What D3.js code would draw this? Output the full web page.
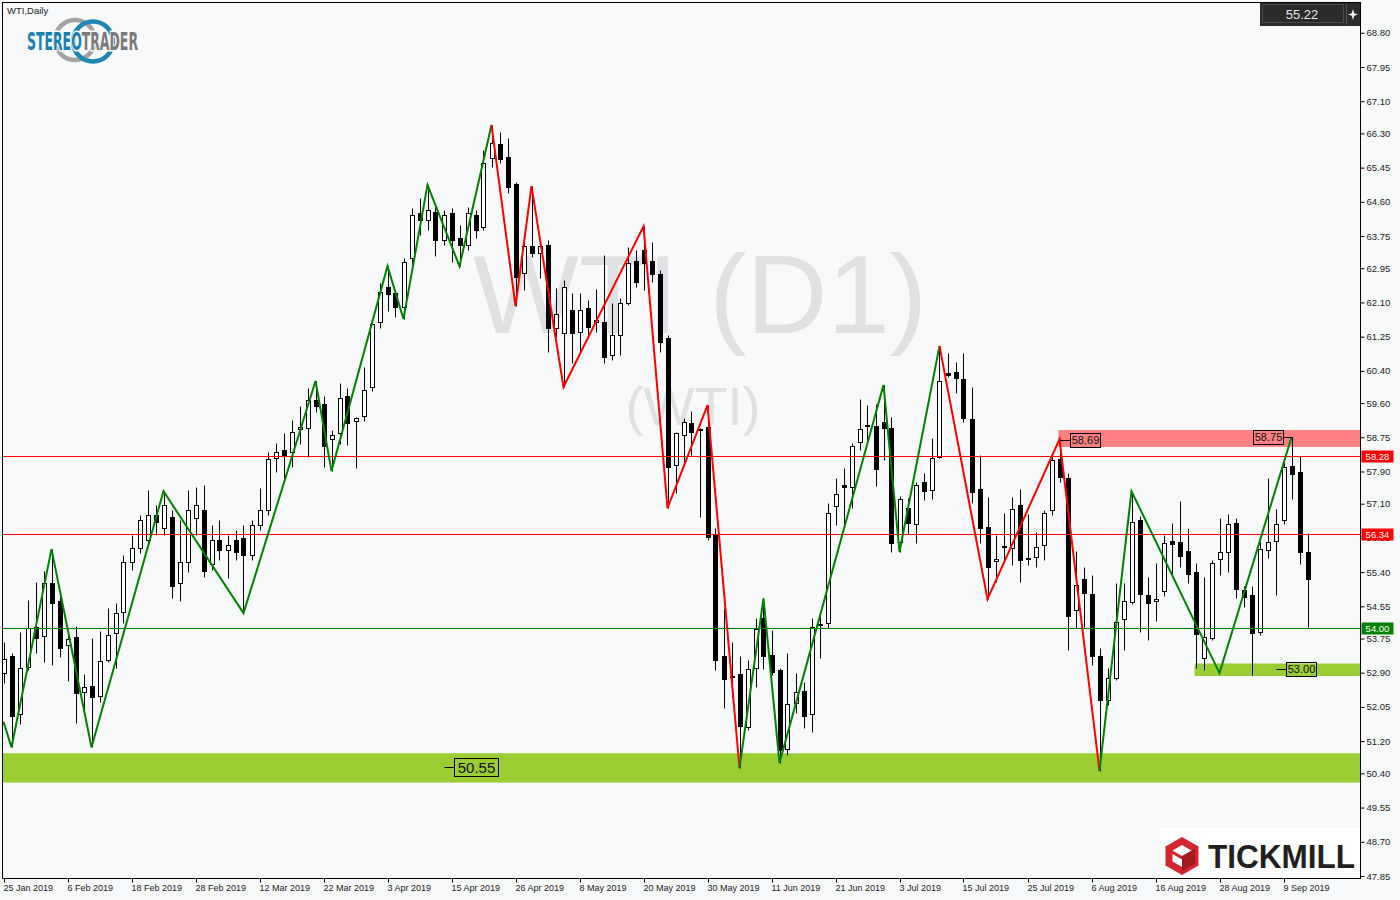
<!DOCTYPE html>
<html><head><meta charset="utf-8">
<script src="https://cdn.jsdelivr.net/npm/d3@7"></script>
<style>body{margin:0;background:#f8f9fb;}svg{display:block;}</style>
</head><body><svg id="c" width="1400" height="900"></svg>
<script>
// ---------------- DATA ----------------
const symbolTitle = "WTI,Daily";
const watermarkMain = "WTI (D1)";
const watermarkSub = "(WTI)";
const dateTickBars = [0,8,16,24,32,40,48,56,64,72,80,88,96,104,112,120,128,136,144,152,160];
const dateTickLabels = ["25 Jan 2019","6 Feb 2019","18 Feb 2019","28 Feb 2019","12 Mar 2019","22 Mar 2019","3 Apr 2019","15 Apr 2019","26 Apr 2019","8 May 2019","20 May 2019","30 May 2019","11 Jun 2019","21 Jun 2019","3 Jul 2019","15 Jul 2019","25 Jul 2019","6 Aug 2019","16 Aug 2019","28 Aug 2019","9 Sep 2019"];
const priceTicks = [68.80,67.95,67.10,66.30,65.45,64.60,63.75,62.95,62.10,61.25,60.40,59.60,58.75,57.90,57.10,56.25,55.40,54.55,53.75,52.90,52.05,51.20,50.40,49.55,48.70,47.85];

const opens = [52.89,53.31,51.87,53.04,54.03,53.81,55.13,54.68,53.59,53.79,52.42,52.57,52.32,53.21,53.89,54.41,55.65,56.00,56.20,56.82,
56.49,56.77,55.13,55.65,56.74,56.94,55.60,56.20,55.95,56.20,56.25,55.82,56.57,56.94,58.23,58.43,58.38,58.95,58.98,59.67,
59.58,58.70,58.85,59.77,59.15,59.28,60.00,61.61,62.48,62.33,61.99,63.20,64.32,64.15,64.34,63.65,64.32,63.70,63.53,64.27,
63.97,65.69,66.03,65.71,65.04,62.83,63.50,63.33,63.53,61.46,61.34,61.91,61.36,61.96,61.61,61.61,60.79,61.29,62.08,63.13,
63.40,63.13,62.80,61.21,58.06,58.80,59.10,58.93,59.00,56.32,53.31,52.82,52.87,51.55,53.02,54.26,53.34,52.97,51.00,52.15,
52.44,51.87,54.11,54.13,57.04,57.56,57.51,58.63,59.05,59.03,59.13,58.98,56.15,56.99,56.59,57.64,57.44,58.26,60.35,60.37,
60.20,59.20,57.46,56.52,55.67,56.02,56.00,57.06,55.75,55.77,56.07,56.94,58.21,57.74,54.46,55.23,54.85,53.31,52.22,52.77,
54.23,54.65,56.69,54.83,54.68,54.93,56.17,56.15,55.92,55.40,53.26,53.76,55.72,55.90,56.62,54.95,54.83,53.91,55.95,56.17,
56.69,58.03,57.89,55.90];
const highs = [53.66,53.39,53.91,54.70,55.15,55.43,55.97,54.95,53.91,54.06,52.87,53.76,53.94,54.51,54.63,55.82,56.32,56.82,57.44,57.07,
57.41,56.94,56.69,57.44,57.51,57.56,56.57,56.69,56.32,56.44,56.57,56.69,57.49,58.38,58.61,58.85,59.18,59.53,59.97,60.15,
59.77,58.93,60.10,59.97,59.25,60.49,61.66,62.58,63.00,62.41,63.20,64.44,64.69,65.02,64.52,64.39,64.44,64.02,64.47,64.39,
65.89,66.51,66.33,66.18,65.09,63.65,64.99,63.65,63.65,62.46,62.66,62.33,62.33,62.16,62.43,63.28,62.08,62.21,63.48,63.40,
63.99,63.60,62.90,61.29,58.88,59.23,59.40,58.98,59.55,56.49,54.51,53.66,53.31,53.21,54.26,54.75,53.96,53.02,53.39,52.89,
52.67,54.26,54.38,57.11,57.74,57.98,58.61,59.70,59.55,59.57,60.05,59.25,57.29,57.24,57.64,57.86,58.73,61.02,60.84,60.62,
60.84,60.00,58.31,57.26,56.32,56.87,57.26,57.46,56.84,56.39,56.94,58.33,58.70,57.86,55.92,55.52,55.33,53.51,53.02,55.13,
55.13,57.41,56.79,55.28,55.62,56.32,56.62,57.16,56.49,55.62,55.28,55.70,56.74,56.84,56.74,55.05,55.05,56.15,57.74,56.97,
58.13,58.75,58.28,56.37];
const lows = [52.64,51.05,51.62,52.97,53.39,53.17,53.09,53.29,52.69,51.65,51.92,51.05,52.17,53.17,53.02,54.13,55.45,55.87,56.07,56.32,
56.32,54.75,54.68,55.40,56.32,55.28,55.45,55.70,55.25,55.70,54.38,55.70,56.44,56.82,57.89,57.61,58.01,58.58,58.26,59.38,
58.01,57.91,58.58,58.56,57.98,59.15,59.90,61.46,61.89,61.74,61.69,63.00,63.77,63.90,63.25,63.53,63.10,63.00,63.40,63.70,
63.90,65.46,65.56,64.82,62.01,62.41,63.23,62.70,60.87,61.24,60.00,60.59,60.84,61.21,61.36,60.59,60.67,60.79,62.03,62.48,
62.41,62.61,60.87,56.99,57.36,58.06,58.31,56.77,56.20,52.97,52.02,52.30,50.53,51.48,52.54,52.99,52.84,50.66,50.85,51.90,
51.52,51.43,53.26,54.01,56.57,56.52,56.99,58.43,58.61,57.54,58.18,55.90,55.90,56.34,56.12,57.19,57.21,58.23,60.25,59.85,
59.13,57.11,56.12,54.73,55.15,55.62,55.57,55.15,55.57,55.52,55.70,56.82,57.64,53.46,54.01,54.03,53.09,50.46,52.10,52.72,
53.46,54.60,53.91,53.71,54.18,54.80,55.33,55.52,55.13,53.02,52.97,53.71,55.33,55.40,54.75,54.53,52.84,53.84,55.75,54.83,
56.59,57.21,55.60,54.03];
const closes = [53.24,51.82,53.02,54.01,53.76,55.13,54.63,53.51,53.74,52.39,52.54,52.30,53.19,53.84,54.38,55.65,56.00,56.69,56.82,56.64,
57.07,55.05,55.65,56.94,57.07,55.43,56.20,55.95,56.07,55.90,55.82,56.57,56.94,58.21,58.38,58.28,58.88,59.00,59.67,59.53,
58.53,58.80,59.73,59.10,59.23,59.92,61.56,62.36,62.31,61.99,63.10,64.27,64.15,64.39,63.65,64.27,63.65,63.53,64.32,63.90,
65.56,66.06,65.66,64.97,62.73,63.50,63.33,63.50,61.46,61.81,62.48,61.34,61.91,61.49,61.66,60.74,61.29,62.08,63.08,62.61,
63.08,62.80,61.11,58.01,58.85,59.13,58.88,58.95,56.27,53.21,52.74,52.79,51.57,52.99,53.98,53.31,52.92,50.98,52.12,52.42,
51.82,54.03,54.08,56.86,57.34,57.51,58.53,58.95,59.03,57.96,58.98,56.12,57.21,56.62,57.56,57.41,58.23,60.15,60.30,60.22,
59.23,57.39,56.49,55.52,55.72,56.05,56.97,55.70,55.72,56.02,56.87,58.18,57.76,54.30,55.08,54.88,53.31,52.22,52.77,54.16,
54.68,56.64,54.85,54.63,54.73,56.12,56.10,55.80,55.35,53.86,53.79,55.62,55.90,56.59,54.98,54.78,53.89,55.97,56.15,56.59,
58.01,57.84,55.90,55.22];

// zigzag swing lines: [bar index, price]
const swingGreen1 = [[0,51.68],[1,51.05],[6,55.97],[11,51.05],[20,57.41],[30,54.38],[39,60.15],[41,57.91],[48,63.00],[50,61.69],[53,65.02],[57,63.00],[61,66.51]];
const swingRed1 = [[61,66.51],[64,62.01],[66,64.99],[70,60.00],[80,63.99],[83,56.99],[88,59.55],[92,50.53]];
const swingGreen2 = [[92,50.53],[95,54.75],[97,50.66],[110,60.05],[112,55.90],[117,61.02]];
const swingRed2 = [[117,61.02],[123,54.73],[132,58.70],[137,50.46]];
const swingGreen3 = [[137,50.46],[141,57.41],[152,52.89],[161,58.75]];

// horizontal levels
const resistanceLevels = [58.28, 56.34];
const supportLevels = [54.00];
// zones: [start bar (null = chart start), low, high]
const supportZoneMain = [null, 50.17, 50.90];
const supportZoneMinor = [149, 52.82, 53.13];
const resistanceZone = [132, 58.51, 58.93];
// price markers
const markerValues = [50.55, 53.00, 58.69, 58.75];
const markerBars = [55, 159, 132, 161];

// ---------------- CHART ----------------
const svg = d3.select("#c");
const W = 1400, H = 900, L = 2.5, R = 1360.5, T = 2.5, B = 878.5;
const bg = "#f8f9fb";
const RED = "#ff0000", GREEN = "#008000";
const FONT = "Liberation Sans, Arial, sans-serif";
svg.append("rect").attr("width", W).attr("height", H).attr("fill", bg);

const n = closes.length;
const x = d3.scaleLinear().domain([0, n - 1]).range([3.5, 3.5 + 8 * (n - 1)]);
const y = d3.scaleLinear().domain([47.80, 69.54]).range([878, 3]);
const px = i => Math.round(x(i)) + 0.5;
const py = v => Math.round(y(v)) + 0.5;

svg.append("defs").append("clipPath").attr("id", "plot")
  .append("rect").attr("x", 3).attr("y", 3).attr("width", R - 3.5).attr("height", B - 3.5);
const plot = svg.append("g").attr("clip-path", "url(#plot)");

// watermark
plot.append("text").attr("x", 700).attr("y", 333).attr("text-anchor", "middle")
  .attr("font-family", FONT).attr("font-size", 112)
  .attr("fill", "#dfe1e3").text(watermarkMain);
plot.append("text").attr("x", 693).attr("y", 425).attr("text-anchor", "middle")
  .attr("font-family", FONT).attr("font-size", 54)
  .attr("fill", "#dfe1e3").text(watermarkSub);

// zones
function zone(z, color) {
  const x0 = z[0] === null ? 3 : x(z[0]) - 1;
  plot.append("rect").attr("x", x0).attr("width", R - x0)
    .attr("y", y(z[2])).attr("height", y(z[1]) - y(z[2])).attr("fill", color);
}
zone(supportZoneMain, "#9acd32");
zone(supportZoneMinor, "#9acd32");
zone(resistanceZone, "#ff8080");

// candles
const bars = d3.range(n).map(i => ({i, o: opens[i], h: highs[i], l: lows[i], c: closes[i]}));
const cg = plot.append("g");
cg.selectAll("line.w").data(bars).join("line")
  .attr("x1", d => px(d.i)).attr("x2", d => px(d.i))
  .attr("y1", d => py(d.h)).attr("y2", d => py(d.l))
  .attr("stroke", "#000").attr("stroke-width", 1);
cg.selectAll("rect.b").data(bars).join("rect")
  .attr("x", d => px(d.i) - 2).attr("width", 4)
  .attr("y", d => py(Math.max(d.o, d.c)))
  .attr("height", d => Math.max(0, py(Math.min(d.o, d.c)) - py(Math.max(d.o, d.c))))
  .attr("fill", d => d.c < d.o ? "#000" : "#fff")
  .attr("stroke", "#000").attr("stroke-width", 1);

// horizontal level lines
resistanceLevels.forEach(v => plot.append("line").attr("x1", 3).attr("x2", R).attr("y1", py(v)).attr("y2", py(v)).attr("stroke", RED));
supportLevels.forEach(v => plot.append("line").attr("x1", 3).attr("x2", R).attr("y1", py(v)).attr("y2", py(v)).attr("stroke", GREEN));

// swing lines
const line = d3.line().x(d => x(d[0])).y(d => y(d[1]));
[[swingGreen1, GREEN], [swingRed1, RED], [swingGreen2, GREEN], [swingRed2, RED], [swingGreen3, GREEN]].forEach(([s, col]) => {
  plot.append("path").attr("d", line(s)).attr("fill", "none").attr("stroke", col).attr("stroke-width", 2);
});

// price markers
function marker(k, side, boxW, fs) {
  const v = markerValues[k], xb = px(markerBars[k]), yy = py(v);
  const h = fs + 3;
  let bx;
  if (side === "right") {
    plot.append("line").attr("x1", xb).attr("x2", xb + 10).attr("y1", yy).attr("y2", yy).attr("stroke", "#000");
    bx = xb + 10;
  } else {
    bx = xb - 9 - boxW;
    plot.append("line").attr("x1", bx + boxW).attr("x2", xb).attr("y1", yy).attr("y2", yy).attr("stroke", "#000");
  }
  plot.append("rect").attr("x", bx).attr("y", yy - h / 2).attr("width", boxW).attr("height", h)
    .attr("fill", "none").attr("stroke", "#000");
  plot.append("text").attr("x", bx + boxW / 2).attr("y", yy).attr("dy", "0.36em").attr("text-anchor", "middle")
    .attr("font-family", FONT).attr("font-size", fs).attr("fill", "#111")
    .text(v.toFixed(2));
}
marker(0, "right", 44, 15);
marker(1, "right", 30, 11);
marker(2, "right", 30, 11);
marker(3, "left", 30, 11);

// frame
svg.append("rect").attr("x", L).attr("y", T).attr("width", R - L).attr("height", B - T)
  .attr("fill", "none").attr("stroke", "#000");

// right axis
const yAxis = d3.axisRight(y).tickValues(priceTicks).tickSize(4).tickSizeOuter(0).tickPadding(2)
  .tickFormat(d3.format(".2f"));
const ya = svg.append("g").attr("transform", `translate(${R},0)`).call(yAxis);
ya.select(".domain").remove();
ya.selectAll("line").attr("stroke", "#000");
ya.selectAll("text").attr("font-family", FONT).attr("font-size", 9.5).attr("fill", "#222");

// bottom axis
const xAxis = d3.axisBottom(x).tickValues(dateTickBars).tickSize(4).tickSizeOuter(0)
  .tickFormat((d, i) => dateTickLabels[i]);
const xa = svg.append("g").attr("transform", `translate(0,${B})`).call(xAxis);
xa.select(".domain").remove();
xa.selectAll(".tick").attr("transform", d => `translate(${px(d)},0)`);
xa.selectAll("line").attr("stroke", "#000");
xa.selectAll("text").attr("text-anchor", "start").attr("x", -1).attr("y", 6)
  .attr("font-family", FONT).attr("font-size", 9).attr("fill", "#222");

// level tags on axis
function tag(v, col) {
  const yy = py(v);
  svg.append("rect").attr("x", R + 1).attr("y", yy - 6).attr("width", 32).attr("height", 12).attr("fill", col);
  svg.append("text").attr("x", R + 17).attr("y", yy).attr("dy", "0.35em").attr("text-anchor", "middle")
    .attr("font-family", FONT).attr("font-size", 9.5).attr("fill", "#fff").text(v.toFixed(2));
}
resistanceLevels.forEach(v => tag(v, RED));
supportLevels.forEach(v => tag(v, GREEN));

// current price box
svg.append("rect").attr("x", 1260).attr("y", 3).attr("width", 86).attr("height", 23).attr("fill", "#2b2b2b");
svg.append("rect").attr("x", 1262.5).attr("y", 4.5).attr("width", 81).attr("height", 18).attr("fill", "none").attr("stroke", "#4a4a4a");
svg.append("text").attr("x", 1302).attr("y", 19).attr("text-anchor", "middle")
  .attr("font-family", FONT).attr("font-size", 13).attr("fill", "#e6e6e6")
  .text(closes[n - 1].toFixed(2));
svg.append("rect").attr("x", 1346).attr("y", 3).attr("width", 14).attr("height", 23).attr("fill", "#2b2b2b");
svg.append("line").attr("x1", 1346.5).attr("x2", 1346.5).attr("y1", 4).attr("y2", 25).attr("stroke", "#555");
svg.append("path").attr("d", "M1353,9 L1354.3,13.2 L1358,14.5 L1354.3,15.8 L1353,20 L1351.7,15.8 L1348,14.5 L1351.7,13.2 Z").attr("fill", "#eee");

// title
svg.append("text").attr("x", 7).attr("y", 14).attr("font-family", FONT)
  .attr("font-size", 9.5).attr("fill", "#222").text(symbolTitle);

// StereoTrader logo
svg.append("circle").attr("cx", 75).attr("cy", 40).attr("r", 20).attr("fill", "none").attr("stroke", "#a3a3a3").attr("stroke-width", 4.5);
svg.append("circle").attr("cx", 93).attr("cy", 41.5).attr("r", 20).attr("fill", "none").attr("stroke", "#1f86b4").attr("stroke-width", 4.5);
const logoFont = "Liberation Sans Narrow, DejaVu Sans Condensed, Arial Narrow, sans-serif";
const logo = svg.append("text").attr("x", 27).attr("y", 50).attr("font-family", logoFont).attr("font-weight", "bold")
  .attr("font-size", 25).attr("textLength", 111).attr("lengthAdjust", "spacingAndGlyphs")
  .attr("stroke", bg).attr("stroke-width", 3).attr("paint-order", "stroke");
logo.append("tspan").attr("fill", "#1b7fae").text("STEREO");
logo.append("tspan").attr("fill", "#7a7a7a").text("TRADER");

// Tickmill logo
svg.append("rect").attr("x", 1160).attr("y", 828).attr("width", 200).attr("height", 50).attr("fill", "#fff");
const hex = r => d3.range(6).map(k => { const a = Math.PI / 3 * k - Math.PI / 2; return [1182 + r * Math.cos(a), 856 + r * Math.sin(a)]; });
svg.append("path").attr("d", "M" + hex(15).join("L") + "Z").attr("fill", "none").attr("stroke", "#d3262e").attr("stroke-width", 7).attr("stroke-linejoin", "miter");
svg.append("path").attr("d", "M1182,856 L1195,848.5 L1195,863.5 L1182,871 Z").attr("fill", "#a31a20");
svg.append("path").attr("d", "M1182,856 L1169,848.5 L1169,852 L1182,859.5 Z").attr("fill", "#d3262e");
svg.append("text").attr("x", 1208).attr("y", 868).attr("font-family", FONT)
  .attr("font-weight", "bold").attr("font-size", 34).attr("textLength", 147).attr("lengthAdjust", "spacingAndGlyphs")
  .attr("fill", "#231f20").text("TICKMILL");
</script></body></html>
